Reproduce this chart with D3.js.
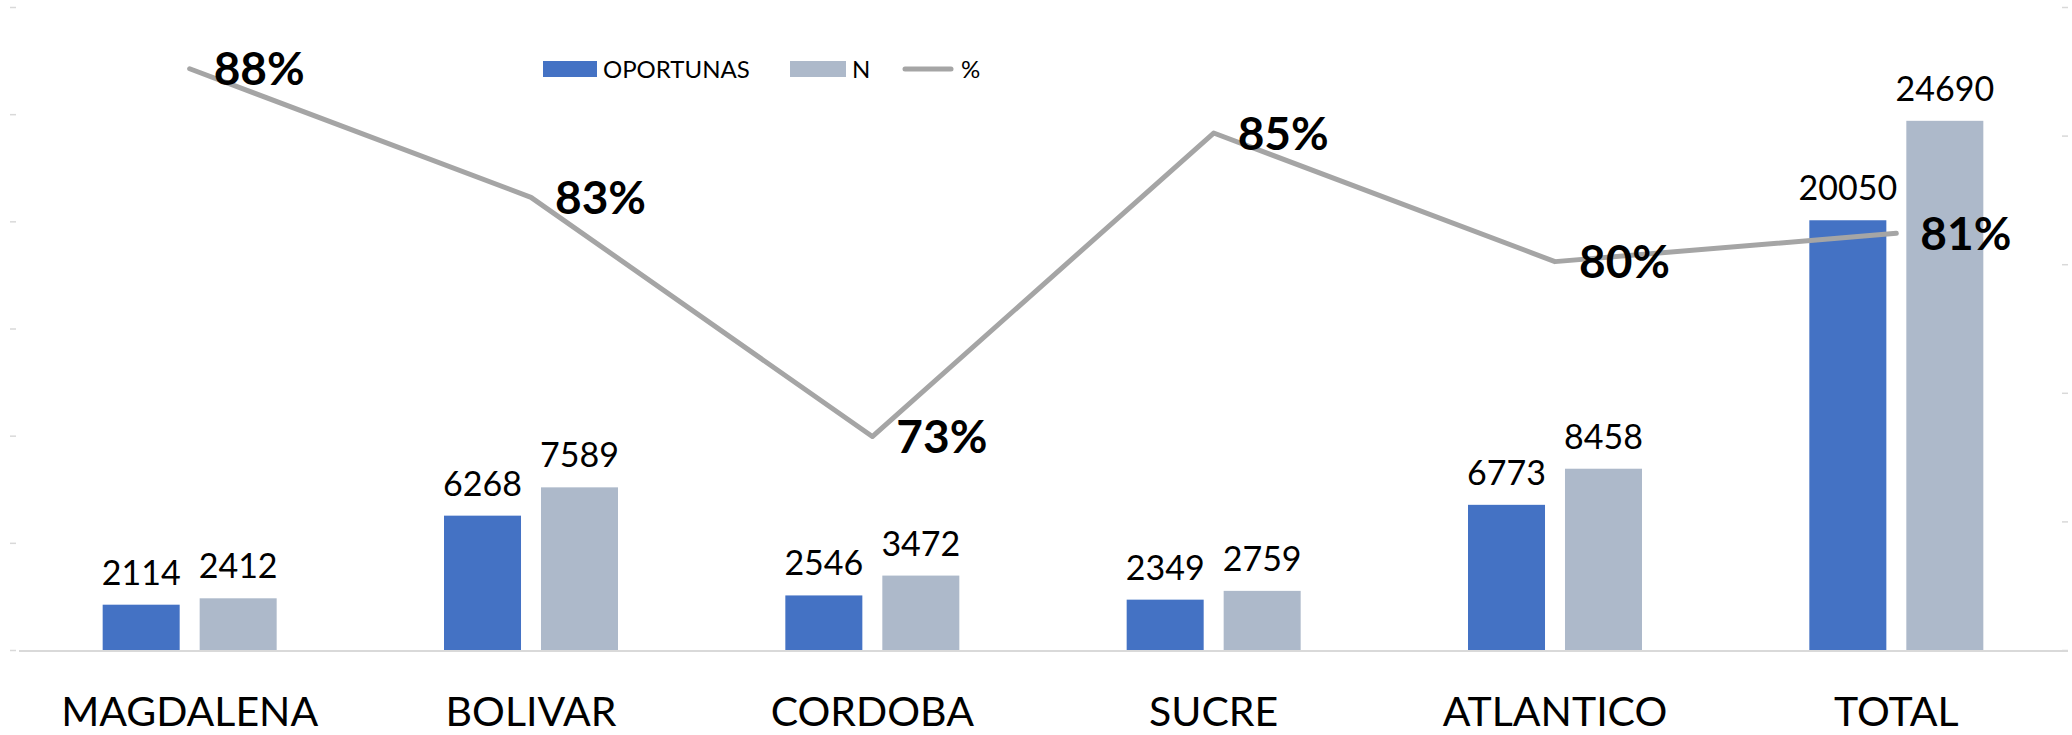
<!DOCTYPE html>
<html>
<head>
<meta charset="utf-8">
<script src="https://cdn.jsdelivr.net/npm/d3@7"></script>
<style>
  html, body { margin: 0; padding: 0; background: #ffffff; }
  svg { display: block; font-family: Lato, "Open Sans", sans-serif; }
</style>
</head>
<body>
<svg id="chart" width="2072" height="735"></svg>
<script>
const categories = ["MAGDALENA", "BOLIVAR", "CORDOBA", "SUCRE", "ATLANTICO", "TOTAL"];
const oportunas = [2114, 6268, 2546, 2349, 6773, 20050];
const totalN = [2412, 7589, 3472, 2759, 8458, 24690];
const percent = [0.876, 0.826, 0.733, 0.851, 0.801, 0.812];
const percentLabels = ["88%", "83%", "73%", "85%", "80%", "81%"];
const seriesNames = ["OPORTUNAS", "N", "%"];
const barTicks = [0, 5000, 10000, 15000, 20000, 25000, 30000];
const pctTicks = [0.65, 0.70, 0.75, 0.80, 0.85, 0.90];

const colors = { OPORTUNAS: "#4472C4", N: "#ADB9CA", line: "#A5A5A5" };

const svg = d3.select("#chart");
const plot = { left: 19, right: 2067, top: 7, bottom: 650 };

const x0 = d3.scaleBand().domain(categories).range([plot.left, plot.right]).padding(0);
const groupW = 174;
const x1 = d3.scaleBand().domain([0, 1]).range([-groupW / 2, groupW / 2]).paddingInner(0.206).paddingOuter(0);
const yBar = d3.scaleLinear().domain([0, 30000]).range([plot.bottom, plot.top]);
const yPct = d3.scaleLinear().domain([0.65, 0.90]).range([plot.bottom, plot.top]);

// Left axis (tick marks only)
const leftAxis = svg.append("g")
  .attr("transform", `translate(16,0)`)
  .call(d3.axisLeft(yBar).tickValues(barTicks).tickSize(6).tickFormat(""));
leftAxis.select(".domain").remove();
leftAxis.selectAll(".tick line").attr("stroke", "#d9d9d9").attr("stroke-width", 1.5);

// Right axis (tick marks only)
const rightAxis = svg.append("g")
  .attr("transform", `translate(2062,0)`)
  .call(d3.axisRight(yPct).tickValues(pctTicks).tickSize(6).tickFormat(""));
rightAxis.select(".domain").remove();
rightAxis.selectAll(".tick line").attr("stroke", "#d9d9d9").attr("stroke-width", 1.5);

// Baseline
svg.append("line")
  .attr("x1", plot.left).attr("x2", 2068)
  .attr("y1", yBar(0) + 1).attr("y2", yBar(0) + 1)
  .attr("stroke", "#d9d9d9").attr("stroke-width", 2);

// Bars
const rows = categories.map((c, i) => ({ cat: c, vals: [oportunas[i], totalN[i]] }));
const groups = svg.append("g").selectAll("g").data(rows).join("g")
  .attr("transform", d => `translate(${x0(d.cat) + x0.bandwidth() / 2},0)`);

groups.selectAll("rect").data(d => d.vals.map((v, k) => ({ v, k }))).join("rect")
  .attr("x", d => x1(d.k))
  .attr("width", x1.bandwidth())
  .attr("y", d => yBar(d.v))
  .attr("height", d => yBar(0) - yBar(d.v))
  .attr("fill", d => d.k === 0 ? colors.OPORTUNAS : colors.N);

groups.selectAll("text.val").data(d => d.vals.map((v, k) => ({ v, k }))).join("text")
  .attr("class", "val")
  .attr("x", d => x1(d.k) + x1.bandwidth() / 2)
  .attr("y", d => yBar(d.v) - 20)
  .attr("text-anchor", "middle")
  .attr("font-size", 34)
  .attr("fill", "#000")
  .text(d => d.v);

// Category labels
svg.append("g").selectAll("text").data(categories).join("text")
  .attr("x", d => x0(d) + x0.bandwidth() / 2)
  .attr("y", 726)
  .attr("text-anchor", "middle")
  .attr("font-size", 41)
  .attr("fill", "#000")
  .text(d => d);

// Line
const pts = categories.map((c, i) => [x0(c) + x0.bandwidth() / 2, yPct(percent[i])]);
svg.append("path")
  .attr("d", d3.line()(pts))
  .attr("fill", "none")
  .attr("stroke", colors.line)
  .attr("stroke-width", 5)
  .attr("stroke-linecap", "round")
  .attr("stroke-linejoin", "round");

svg.append("g").selectAll("text").data(pts).join("text")
  .attr("x", d => d[0] + 24)
  .attr("y", d => d[1])
  .attr("dy", "0.36em")
  .attr("font-size", 46)
  .attr("font-weight", "bold")
  .attr("fill", "#000")
  .text((d, i) => percentLabels[i]);

// Legend
const lg = svg.append("g");
lg.append("rect").attr("x", 543).attr("y", 61).attr("width", 54).attr("height", 16).attr("fill", colors.OPORTUNAS);
lg.append("text").attr("x", 603).attr("y", 69).attr("dy", "0.36em").attr("font-size", 24).text(seriesNames[0]);
lg.append("rect").attr("x", 790).attr("y", 61).attr("width", 56).attr("height", 16).attr("fill", colors.N);
lg.append("text").attr("x", 852).attr("y", 69).attr("dy", "0.36em").attr("font-size", 24).text(seriesNames[1]);
lg.append("line").attr("x1", 905).attr("x2", 951).attr("y1", 69).attr("y2", 69)
  .attr("stroke", colors.line).attr("stroke-width", 5).attr("stroke-linecap", "round");
lg.append("text").attr("x", 961).attr("y", 69).attr("dy", "0.36em").attr("font-size", 24).text(seriesNames[2]);
</script>
</body>
</html>
